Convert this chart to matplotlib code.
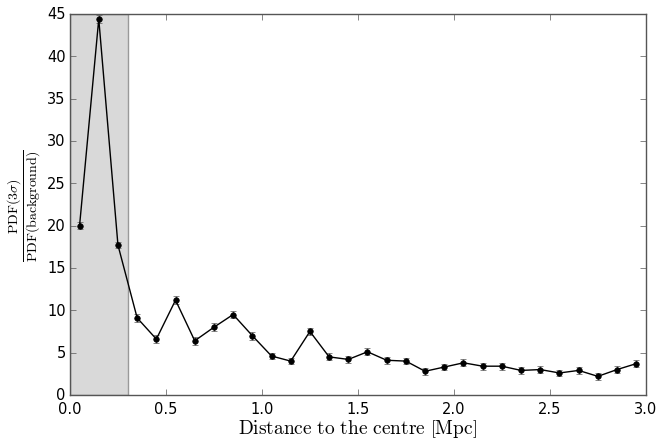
import matplotlib
matplotlib.use("Agg")
import matplotlib.pyplot as plt
import numpy as np

plt.style.use("classic")
plt.rcParams['mathtext.fontset'] = 'cm'

distance = [0.05, 0.15, 0.25, 0.35, 0.45, 0.55, 0.65, 0.75, 0.85, 0.95,
            1.05, 1.15, 1.25, 1.35, 1.45, 1.55, 1.65, 1.75, 1.85, 1.95,
            2.05, 2.15, 2.25, 2.35, 2.45, 2.55, 2.65, 2.75, 2.85, 2.95]
ratio = [20.0, 44.4, 17.7, 9.1, 6.6, 11.2, 6.4, 8.0, 9.5, 7.0,
         4.6, 4.0, 7.5, 4.5, 4.2, 5.1, 4.1, 4.0, 2.8, 3.3,
         3.8, 3.4, 3.4, 2.9, 3.0, 2.6, 2.9, 2.2, 3.0, 3.7]
errors = [0.4, 0.45, 0.4, 0.45, 0.45, 0.45, 0.45, 0.45, 0.45, 0.45,
          0.4, 0.4, 0.45, 0.4, 0.4, 0.4, 0.4, 0.4, 0.4, 0.4,
          0.4, 0.4, 0.4, 0.4, 0.4, 0.4, 0.4, 0.4, 0.4, 0.4]
shade_limit = 0.3

fig = plt.figure(figsize=(6.57, 4.39), dpi=100, facecolor='white')
ax = fig.add_axes([0.1065, 0.098, 0.8765, 0.868])
ax.axvspan(0, shade_limit, facecolor='#d9d9d9', edgecolor='#999999', linewidth=1, zorder=0)
ax.errorbar(distance, ratio, yerr=errors, fmt='o', color='black', ecolor='#555555',
            markersize=4, capsize=2, elinewidth=1, linestyle='-', linewidth=1)
ax.set_xlim(0, 3.0)
ax.set_ylim(0, 45)
ax.set_xticks(np.arange(0, 3.01, 0.5))
ax.set_yticks(np.arange(0, 46, 5))
for s in ax.spines.values():
    s.set_color('#555555')
ax.tick_params(colors='#555555', labelcolor='black', labelsize=10.5)
ax.tick_params(axis='y', pad=3)
ax.tick_params(axis='x', pad=4)
ax.set_xlabel(r'$\rm Distance\ to\ the\ centre\ \left[Mpc\right]$', fontsize=14)
ax.xaxis.set_label_coords(0.5, -0.058)
ax.set_ylabel(r'$\dfrac{\rm PDF(3\sigma)}{\rm PDF(background)}$', fontsize=10)
ax.yaxis.set_label_coords(-0.047, 0.5)
fig.savefig('out.png', dpi=100, facecolor='white')
